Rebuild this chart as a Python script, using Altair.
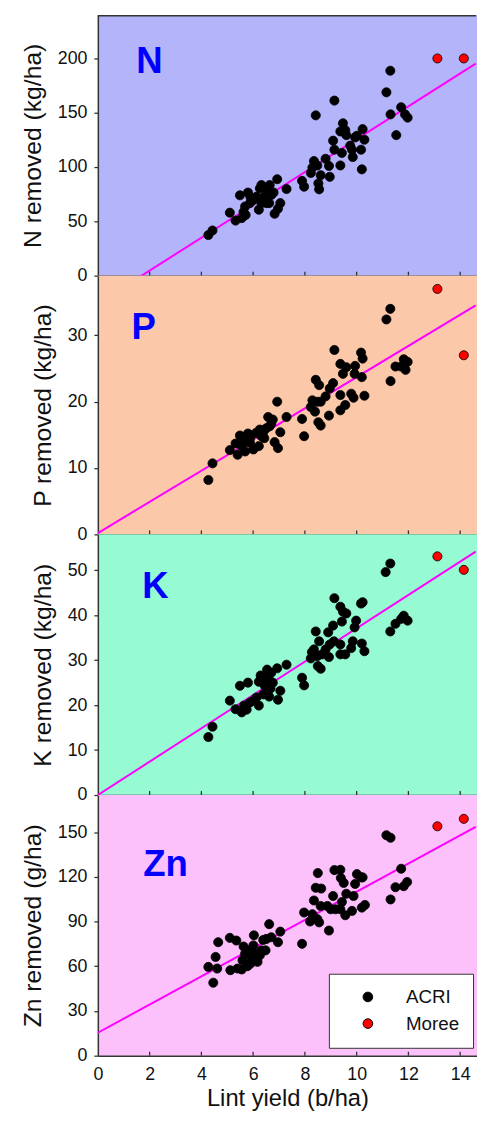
import altair as alt
import pandas as pd

# ---------------- data ----------------
x_ticks = [2, 4, 6, 8, 10, 12, 14]
x_max = 14.65
line_end = 14.6

moree_x = [13.12, 14.14]
moree_N = [200.0, 200.0]
moree_P = [37.0, 27.0]
moree_K = [53.1, 50.1]
moree_Zn = [154.0, 159.0]

acri_x_N = [4.27, 4.43, 5.10, 5.32, 5.49, 5.56, 5.63, 5.69, 5.80, 5.71, 5.88, 6.01, 6.22, 6.26,
            6.32, 6.43, 6.51, 6.64, 6.62, 6.70, 6.83, 6.93, 6.96, 7.05, 7.29, 6.79, 6.13, 5.90,
            6.51, 6.32, 7.89, 7.97, 8.23, 8.29, 8.35, 8.42, 8.48, 8.52, 8.55, 8.61, 8.80, 8.93,
            8.96, 9.09, 9.14, 9.14, 9.37, 9.37, 9.43, 9.47, 9.56, 9.60, 9.82, 9.85, 9.94, 10.01,
            10.17, 10.20, 10.23, 10.30, 11.15, 11.30, 11.31, 11.53, 11.72, 11.87, 11.97, 9.75]
acri_y_N = [37.4, 41.6, 58.0, 50.7, 74.0, 53.0, 58.6, 63.7, 76.5, 55.9, 66.8, 69.8, 60.7, 80.4,
            83.4, 72.8, 80.4, 83.4, 66.8, 74.3, 57.0, 88.8, 61.6, 66.8, 79.8, 76.5, 72.8, 72.2,
            66.8, 66.8, 87.3, 81.9, 94.6, 99.5, 105.5, 147.6, 101.5, 84.9, 79.5, 92.5, 107.6, 101.0,
            91.0, 124.3, 161.2, 116.0, 101.5, 132.8, 113.0, 140.3, 134.0, 129.4, 116.0, 109.2, 127.3, 128.8,
            116.0, 97.9, 134.9, 125.2, 168.8, 188.7, 148.5, 129.4, 155.1, 148.5, 145.5, 119.7]

acri_x_P = [4.27, 4.43, 5.10, 5.32, 5.40, 5.49, 5.56, 5.63, 5.69, 5.80, 5.88, 6.01, 6.22, 6.26,
            6.32, 6.43, 6.51, 6.58, 6.70, 6.76, 6.83, 6.93, 6.96, 7.05, 7.29, 6.11, 6.39, 6.64,
            5.88, 7.89, 7.97, 8.23, 8.29, 8.39, 8.42, 8.48, 8.52, 8.61, 8.55, 8.61, 8.80, 8.93,
            8.96, 9.09, 9.14, 9.37, 9.37, 9.37, 9.47, 9.60, 9.56, 9.79, 9.88, 9.94, 9.92, 10.17,
            10.23, 10.20, 10.30, 11.15, 11.30, 11.31, 11.50, 11.72, 11.82, 11.89, 11.97]
acri_y_P = [8.2, 10.7, 12.7, 13.7, 12.0, 14.9, 13.3, 14.0, 12.5, 15.2, 13.8, 12.8, 13.3, 15.8,
            14.8, 14.5, 16.0, 17.7, 16.7, 17.3, 13.9, 20.0, 13.0, 15.4, 17.7, 15.3, 15.4, 16.3,
            14.5, 17.4, 14.8, 19.2, 20.2, 18.5, 23.3, 20.0, 16.9, 16.4, 22.5, 20.0, 20.8, 17.9,
            22.0, 22.8, 27.8, 21.0, 25.7, 18.7, 24.2, 25.2, 19.5, 21.2, 20.6, 25.4, 24.2, 27.4,
            26.5, 23.7, 20.9, 32.4, 34.0, 23.1, 25.3, 25.3, 26.4, 24.8, 26.0]

acri_x_K = [4.27, 4.43, 5.10, 5.32, 5.49, 5.56, 5.65, 5.80, 5.75, 5.88, 6.01, 6.22, 6.22, 6.29,
            6.39, 6.45, 6.54, 6.60, 6.67, 6.70, 6.62, 6.93, 6.96, 7.05, 7.29, 6.48, 6.76, 6.13,
            7.89, 7.97, 8.23, 8.27, 8.35, 8.42, 8.48, 8.50, 8.61, 8.55, 8.67, 8.80, 8.90, 8.93,
            8.96, 9.09, 9.14, 9.12, 9.37, 9.37, 9.37, 9.43, 9.47, 9.60, 9.56, 9.79, 9.85, 9.92,
            9.98, 10.17, 10.23, 10.20, 10.30, 11.12, 11.30, 11.30, 11.50, 11.72, 11.82, 11.97]
acri_y_K = [12.9, 15.2, 21.0, 19.1, 24.3, 18.4, 19.9, 25.0, 19.0, 20.6, 21.0, 19.9, 25.2, 26.6,
            22.4, 24.3, 27.9, 25.7, 23.7, 27.2, 21.9, 28.2, 21.2, 23.2, 29.0, 26.1, 25.0, 21.7,
            26.1, 24.4, 30.4, 31.8, 32.4, 36.4, 30.9, 28.7, 28.1, 34.2, 31.3, 32.4, 36.2, 30.7,
            33.5, 37.7, 43.8, 34.2, 41.9, 33.5, 31.3, 38.6, 40.8, 40.4, 31.3, 32.7, 34.2, 37.3,
            38.8, 42.6, 42.9, 33.7, 32.0, 49.6, 51.5, 36.4, 38.1, 39.2, 39.9, 38.8]

acri_x_Zn = [4.27, 4.46, 4.55, 4.61, 4.65, 5.10, 5.12, 5.35, 5.40, 5.56, 5.63, 5.59, 5.69, 5.78,
             5.84, 5.90, 5.94, 6.03, 6.01, 6.07, 6.17, 6.26, 6.32, 6.39, 6.48, 6.62, 6.70, 6.96,
             7.05, 6.51, 7.89, 7.97, 8.20, 8.29, 8.35, 8.42, 8.48, 8.50, 8.55, 8.63, 8.61, 8.87,
             8.93, 9.00, 9.09, 9.14, 9.18, 9.37, 9.39, 9.43, 9.50, 9.37, 9.56, 9.60, 9.82, 9.88,
             9.94, 10.01, 10.17, 10.23, 10.20, 10.32, 11.15, 11.31, 11.31, 11.50, 11.72, 11.82, 11.95]
acri_y_Zn = [59.6, 49.0, 66.3, 58.5, 76.2, 79.1, 57.4, 77.3, 58.5, 57.9, 73.3, 64.1, 68.5, 60.1,
             70.7, 61.8, 65.1, 80.8, 74.0, 68.5, 63.0, 67.4, 70.7, 77.7, 70.7, 88.3, 79.5, 76.2,
             83.3, 78.4, 75.1, 96.1, 90.1, 95.0, 104.2, 112.7, 91.7, 122.6, 89.5, 112.2, 100.5, 100.5,
             84.0, 98.3, 107.2, 124.6, 98.3, 124.8, 119.3, 103.2, 116.0, 98.3, 94.3, 108.7, 97.2, 107.2,
             115.3, 121.9, 119.7, 119.7, 99.4, 101.2, 148.0, 146.3, 104.9, 113.1, 125.5, 113.8, 116.6]

# fitted regression lines (intercept, slope)
fit_N = (-25.6, 15.13)
fit_P = (0.2, 2.35)
fit_K = (0.0, 3.71)
fit_Zn = (15.4, 9.47)

sources = ["ACRI", "Moree"]

FONT = "Liberation Sans"
W = 384
AX = "#333333"


def panel(label, ytitle, acri_x, acri_y, mor_y, fit, ydom, yvals, height,
          label_pos, bottom=False, top_border=False, legend=False):
    pts = pd.DataFrame({
        "x": list(acri_x) + moree_x,
        "y": list(acri_y) + mor_y,
        "source": ["ACRI"] * len(acri_x) + ["Moree"] * len(moree_x),
    })
    b, m = fit
    line_df = pd.DataFrame({"x": [0.0, line_end]})
    ticks_df = pd.DataFrame({"t": x_ticks})

    if bottom:
        xaxis = alt.Axis(values=x_ticks + [0], ticks=False, tickSize=0, labelFlush=False,
                         labelPadding=10, title="Lint yield (b/ha)", titlePadding=3,
                         titleFontSize=24)
    else:
        xaxis = alt.Axis(labels=False, ticks=False, tickSize=0, title=None)

    xs = alt.Scale(domain=[0, x_max], nice=False, zero=False)
    ys = alt.Scale(domain=ydom, nice=False, zero=False)

    if legend:
        leg = alt.Legend(title=None, orient="none", legendX=234, legendY=181,
                         padding=14, symbolOffset=16, labelOffset=29, rowPadding=7,
                         strokeColor="#333333", fillColor="white", cornerRadius=0,
                         symbolType="circle", symbolSize=95, symbolStrokeColor="black",
                         symbolStrokeWidth=1, labelFontSize=19, labelFont=FONT,
                         labelColor="#111111")
    else:
        leg = None

    line = alt.Chart(line_df).transform_calculate(
        y=f"{b} + {m} * datum.x"
    ).mark_line(color="#FF00FF", strokeWidth=2, clip=True).encode(
        x=alt.X("x:Q", scale=xs, axis=xaxis),
        y=alt.Y("y:Q", scale=ys, axis=alt.Axis(values=yvals, title=ytitle)),
    )

    dots = alt.Chart(pts).mark_circle(size=85, opacity=1, stroke="black",
                                       strokeWidth=0.8).encode(
        x="x:Q",
        y="y:Q",
        fill=alt.Fill("source:N", scale=alt.Scale(domain=sources, range=["black", "#FF0000"]),
                      legend=leg),
    )

    tick_rules = alt.Chart(ticks_df).mark_rule(color=AX, strokeWidth=1.3).encode(
        x="t:Q", y=alt.value(height - 4), y2=alt.value(height)
    )

    txt = alt.Chart(pd.DataFrame({"lab": [label]})).mark_text(
        font=FONT, fontSize=37, fontWeight="bold", color="#0000FF",
        align="left", baseline="alphabetic"
    ).encode(text="lab:N", x=alt.value(label_pos[0]), y=alt.value(label_pos[1]))

    layers = [line, dots, tick_rules, txt]
    if top_border:
        layers.append(alt.Chart(pd.DataFrame({"a": [0]})).mark_rule(
            color=AX, strokeWidth=1.5).encode(x=alt.value(0), x2=alt.value(W - 1), y=alt.value(0.75)))

    return alt.layer(*layers).properties(width=W, height=height)


colors = {"N": "#B4B4FA", "P": "#FCC8AA", "K": "#96FAD2", "Zn": "#FCC0FA"}

pN = panel("N", "N removed (kg/ha)", acri_x_N, acri_y_N, moree_N, fit_N, [0, 240],
           [0, 50, 100, 150, 200], 264, (39, 59), top_border=True)
pP = panel("P", "P removed (kg/ha)", acri_x_P, acri_y_P, moree_P, fit_P, [0, 39],
           [0, 10, 20, 30], 262, (34, 64))
pK = panel("K", "K removed (kg/ha)", acri_x_K, acri_y_K, moree_K, fit_K, [0, 58],
           [0, 10, 20, 30, 40, 50], 264, (45, 64))
pZ = panel("Zn", "Zn removed (g/ha)", acri_x_Zn, acri_y_Zn, moree_Zn, fit_Zn, [0, 175],
           [0, 30, 60, 90, 120, 150], 264, (46, 82), bottom=True, legend=True)

pN = pN.properties(view=alt.ViewBackground(fill=colors["N"], stroke=None))
pP = pP.properties(view=alt.ViewBackground(fill=colors["P"], stroke=None))
pK = pK.properties(view=alt.ViewBackground(fill=colors["K"], stroke=None))
pZ = pZ.properties(view=alt.ViewBackground(fill=colors["Zn"], stroke=None))

chart = alt.vconcat(pN, pP, pK, pZ, spacing=0, bounds="flush").resolve_scale(
    fill="independent"
).properties(
    padding={"left": 12, "top": 0, "right": 0, "bottom": 0}
).configure_axis(
    domainColor=AX, domainWidth=1.5, tickColor=AX, tickWidth=1.3,
    labelFont=FONT, labelFontSize=18, labelColor="#111111", labelPadding=7,
    titleFont=FONT, titleFontSize=25, titleFontWeight="normal", titleColor="#111111",
    titlePadding=12, grid=False
).configure_axisY(tickSize=4).configure_view(stroke=None)

chart.save("out.html", embed_options={"renderer": "svg", "actions": False})
